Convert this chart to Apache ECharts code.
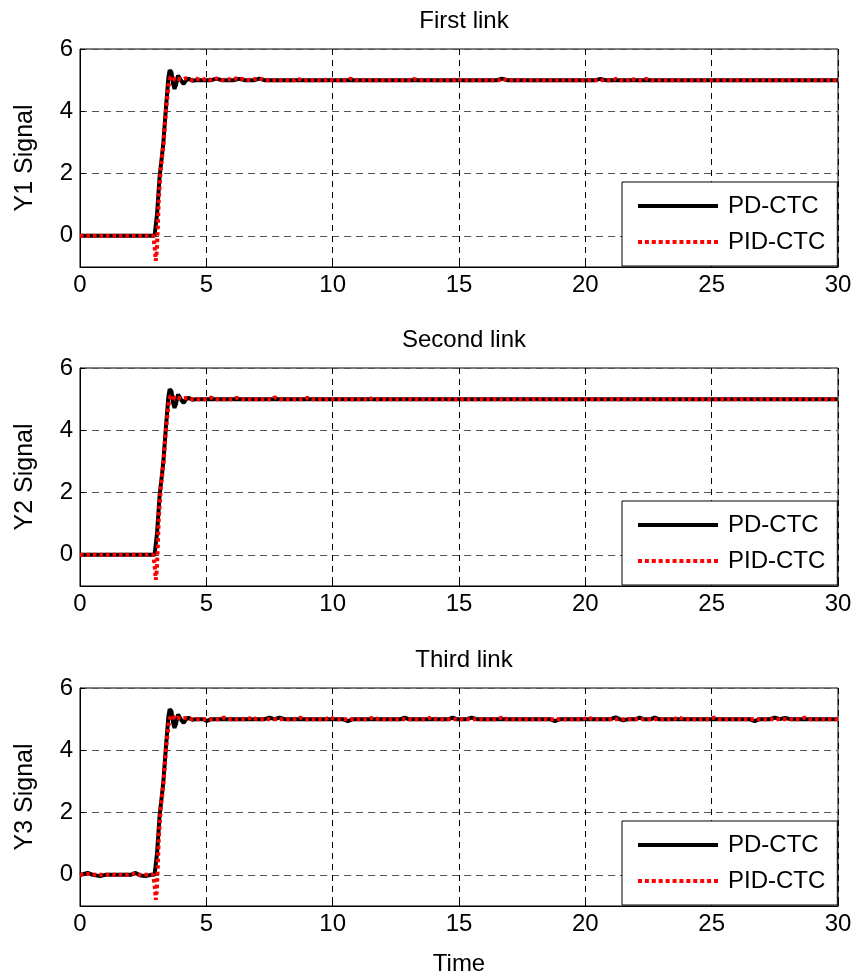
<!DOCTYPE html>
<html>
<head>
<meta charset="utf-8">
<script src="https://cdn.jsdelivr.net/npm/echarts@6/dist/echarts.min.js"></script>
<style>html,body{margin:0;padding:0;background:#fff}#c{width:857px;height:979px}</style>
</head>
<body>
<div id="c"></div>
<script>
var titles = ['First link', 'Second link', 'Third link'];
var yNames = ['Y1 Signal', 'Y2 Signal', 'Y3 Signal'];
var seriesNames = ['PD-CTC', 'PID-CTC'];
var xTicks = [0, 5, 10, 15, 20, 25, 30];
var yTicks = [0, 2, 4, 6];

var pd1 = [[0,0],[2.95,0],[3.05,0.7],[3.15,1.9],[3.22,2.4],[3.3,3.0],[3.4,4.1],[3.5,5.1],[3.55,5.32],[3.62,5.25],[3.68,4.9],[3.74,4.72],[3.8,4.85],[3.88,5.15],[3.95,5.12],[4.03,4.95],[4.1,4.88],[4.2,5.0],[4.3,5.04],[4.45,4.98],[4.6,5.0],[5.2,5.0],[5.4,5.05],[5.6,5.0],[6.1,5.0],[6.3,5.04],[6.5,5.0],[6.9,5.0],[7.1,5.05],[7.3,5.0],[16.5,5.0],[16.7,5.05],[16.9,5.0],[20.4,5.0],[20.6,5.04],[20.8,5.0],[30,5.0]];
var pid1 = [[0,0],[2.9,0],[2.96,-0.4],[3.0,-0.8],[3.04,-0.5],[3.08,0.3],[3.12,1.2],[3.2,2.2],[3.3,2.9],[3.4,4.0],[3.5,4.8],[3.58,5.1],[3.66,5.12],[3.75,5.0],[3.85,5.05],[4.0,5.02],[4.2,5.06],[4.4,5.0],[4.6,5.05],[4.8,5.0],[5.0,5.05],[5.2,5.0],[5.4,5.05],[5.6,5.0],[6.2,5.05],[6.4,5.04],[6.6,5.0],[7.1,5.05],[7.3,5.0],[8.5,5.0],[8.6,5.05],[8.8,5.0],[9.7,5.0],[9.8,5.04],[10.0,5.0],[10.6,5.0],[10.7,5.05],[10.9,5.0],[13.1,5.0],[13.2,5.04],[13.4,5.0],[14.8,5.0],[14.9,5.04],[15.1,5.0],[16.6,5.0],[16.7,5.05],[16.9,5.0],[21.1,5.0],[21.2,5.04],[21.4,5.0],[21.7,5.0],[21.8,5.05],[22.0,5.0],[22.3,5.0],[22.4,5.04],[22.6,5.0],[30,5.0]];

var pd2 = [[0,0],[2.95,0],[3.05,0.7],[3.15,1.9],[3.22,2.4],[3.3,3.0],[3.4,4.1],[3.5,5.1],[3.55,5.32],[3.62,5.25],[3.68,4.9],[3.74,4.72],[3.8,4.85],[3.88,5.15],[3.95,5.12],[4.03,4.95],[4.1,4.88],[4.2,5.0],[4.3,5.04],[4.45,4.98],[4.6,5.0],[30,5.0]];
var pid2 = [[0,0],[2.9,0],[2.96,-0.4],[3.0,-0.8],[3.04,-0.5],[3.08,0.3],[3.12,1.2],[3.2,2.2],[3.3,2.9],[3.4,4.0],[3.5,4.8],[3.58,5.1],[3.66,5.12],[3.75,5.0],[3.85,5.05],[4.0,5.02],[4.2,5.04],[4.4,5.0],[5.0,5.0],[5.2,5.05],[5.4,5.0],[6.0,5.0],[6.2,5.04],[6.4,5.0],[7.6,5.0],[7.7,5.06],[7.9,5.0],[8.9,5.0],[9.0,5.04],[9.2,5.0],[11.3,5.0],[11.4,5.05],[11.6,5.0],[30,5.0]];

var pd3 = [[0,0],[0.3,0.06],[0.5,0.0],[0.8,-0.04],[1.0,0.0],[2.0,0.0],[2.2,0.06],[2.4,-0.02],[2.6,-0.04],[2.8,0.0],[2.95,0],[3.05,0.7],[3.15,1.9],[3.22,2.4],[3.3,3.0],[3.4,4.1],[3.5,5.1],[3.55,5.32],[3.62,5.25],[3.68,4.9],[3.74,4.72],[3.8,4.85],[3.88,5.15],[3.95,5.12],[4.03,4.95],[4.1,4.88],[4.2,5.0],[4.3,5.04],[4.45,4.98],[4.6,5.0],[4.9,5.0],[5.0,4.94],[5.2,5.0],[7.3,5.0],[7.5,5.05],[7.7,5.0],[7.9,5.05],[8.1,5.0],[10.4,5.0],[10.6,4.94],[10.8,5.0],[12.7,5.0],[12.85,5.05],[13.0,5.0],[14.6,5.0],[14.75,5.05],[14.9,5.0],[15.3,5.0],[15.5,5.05],[15.7,5.0],[18.6,5.0],[18.8,4.94],[19.0,5.0],[21.0,5.0],[21.2,5.06],[21.35,5.0],[21.5,4.96],[21.7,5.0],[22.0,5.0],[22.15,5.05],[22.3,5.0],[22.6,5.0],[22.75,5.05],[22.9,5.0],[26.5,5.0],[26.7,4.94],[26.9,5.0],[27.3,5.0],[27.5,5.05],[27.7,5.0],[27.9,5.04],[28.1,5.0],[30,5.0]];
var pid3 = [[0,0],[0.4,0.04],[0.6,0.0],[1.9,0.0],[2.1,0.04],[2.3,0.0],[2.9,0],[2.96,-0.4],[3.0,-0.8],[3.04,-0.5],[3.08,0.3],[3.12,1.2],[3.2,2.2],[3.3,2.9],[3.4,4.0],[3.5,4.8],[3.58,5.1],[3.66,5.12],[3.75,5.0],[3.85,5.05],[4.0,5.02],[4.2,5.04],[4.4,5.0],[5.5,5.0],[5.7,5.05],[5.9,5.0],[6.6,5.0],[6.8,5.05],[7.0,5.0],[8.5,5.0],[8.7,5.05],[8.9,5.0],[9.7,5.0],[9.9,5.05],[10.1,5.0],[11.4,5.0],[11.6,5.05],[11.8,5.0],[13.7,5.0],[13.9,5.05],[14.1,5.0],[16.5,5.0],[16.7,5.05],[16.9,5.0],[19.9,5.0],[20.1,5.05],[20.3,5.0],[23.5,5.0],[23.7,5.05],[23.9,5.0],[24.9,5.0],[25.1,5.05],[25.3,5.0],[28.5,5.0],[28.7,5.05],[28.9,5.0],[30,5.0]];

var pdData = [pd1, pd2, pd3];
var pidData = [pid1, pid2, pid3];

// legend icon paths (80 x 4 box): solid bar and a row of square dots
var solidIcon = 'path://M0,0H80V4H0Z';
var dotParts = [];
for (var k = 0; k < 12; k++) {
  var x0 = (k * 76 / 11).toFixed(2);
  dotParts.push('M' + x0 + ',0h4v4h-4Z');
}
var dotIcon = 'path://' + dotParts.join('');

var chart = echarts.init(document.getElementById('c'), null, {renderer: 'canvas'});
var FONT = 'Liberation Sans, Arial, sans-serif';
var tops = [49, 368, 688];
var plotH = 218;
var grids = [], xAxes = [], yAxes = [], series = [], titleArr = [], legends = [];
for (var i = 0; i < 3; i++) {
  grids.push({left: 80, top: tops[i], width: 758, height: plotH, show: true, borderColor: '#000', borderWidth: 1, backgroundColor: '#fff', containLabel: false});
  xAxes.push({
    type: 'value', gridIndex: i, min: 0, max: 30, interval: 5,
    axisLine: {show: true, onZero: false, lineStyle: {color: '#000', width: 1}},
    axisTick: {show: true, inside: true, length: 5, lineStyle: {color: '#000'}},
    axisLabel: {color: '#000', fontSize: 24, fontFamily: FONT, margin: 6},
    splitLine: {show: true, lineStyle: {color: '#000', type: [6, 5], width: 1}},
    name: i === 2 ? 'Time' : '', nameLocation: 'middle', nameGap: 46,
    nameTextStyle: {color: '#000', fontSize: 24, fontFamily: FONT}
  });
  yAxes.push({
    type: 'value', gridIndex: i, min: -1, max: 6, interval: 1,
    axisLine: {show: true, onZero: false, lineStyle: {color: '#000', width: 1}},
    axisTick: {show: true, inside: true, length: 5, customValues: yTicks, lineStyle: {color: '#000'}},
    axisLabel: {color: '#000', fontSize: 24, fontFamily: FONT, margin: 7,
      formatter: function (v) { return yTicks.indexOf(v) >= 0 ? String(v) : ''; }},
    splitLine: {show: true, lineStyle: {color: '#555', type: [7, 5], width: 1}},
    name: yNames[i], nameLocation: 'middle', nameGap: 42, nameRotate: 90,
    nameTextStyle: {color: '#000', fontSize: 25, fontFamily: FONT}
  });
  series.push({
    name: seriesNames[0], type: 'line', xAxisIndex: i, yAxisIndex: i,
    data: pdData[i], symbol: 'none', showSymbol: false, animation: false,
    lineStyle: {color: '#000', width: 4}, itemStyle: {color: '#000'}, z: 2
  });
  series.push({
    name: seriesNames[1], type: 'line', xAxisIndex: i, yAxisIndex: i,
    data: pidData[i], symbol: 'none', showSymbol: false, animation: false,
    lineStyle: {color: '#ff0000', width: 4, type: [3.5, 3]}, itemStyle: {color: '#ff0000'}, z: 3
  });
  titleArr.push({text: titles[i], left: 459, top: tops[i] - 45, textAlign: 'center',
    textStyle: {color: '#000', fontSize: 24, fontWeight: 'normal', fontFamily: FONT}});
  legends.push({
    data: [{name: seriesNames[0], icon: solidIcon}, {name: seriesNames[1], icon: dotIcon}],
    orient: 'vertical', left: 622, top: tops[i] + 133,
    itemWidth: 80, itemHeight: 4, itemGap: 12, symbolKeepAspect: false,
    padding: [12, 12, 12, 16],
    backgroundColor: '#fff', borderColor: '#000', borderWidth: 1, borderRadius: 0,
    textStyle: {color: '#000', fontSize: 24, lineHeight: 24, fontFamily: FONT, padding: [0, 0, 0, 5]},
    selectedMode: false
  });
}
chart.setOption({
  animation: false,
  backgroundColor: '#fff',
  title: titleArr,
  legend: legends,
  grid: grids,
  xAxis: xAxes,
  yAxis: yAxes,
  series: series
});
</script>
</body>
</html>
